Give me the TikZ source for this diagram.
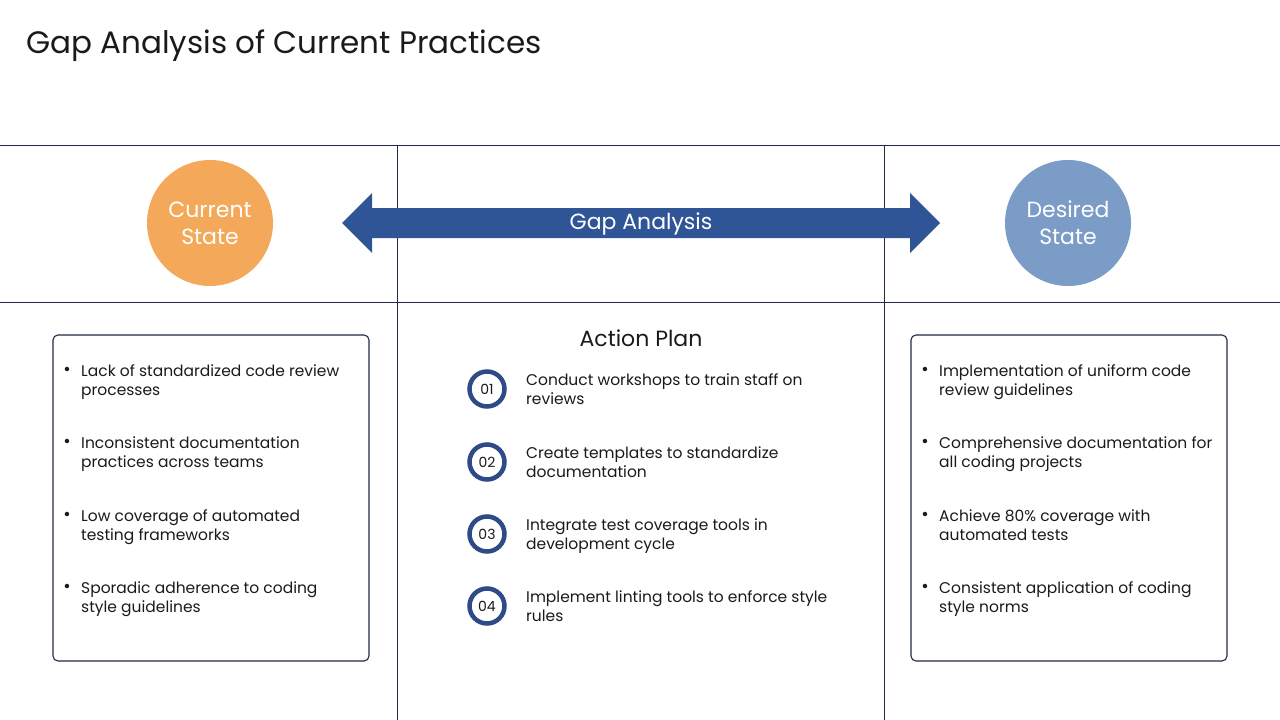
\documentclass[tikz,border=0pt]{standalone}
\usepackage{fontspec}
\setmainfont{Poppins}
\usepackage{tikz}
\usepackage{xcolor}
\usetikzlibrary{positioning,calc}
\definecolor{ink}{HTML}{1A1A1A}
\definecolor{rulenavy}{HTML}{1F2A44}
\definecolor{arrowblue}{HTML}{2F5597}
\definecolor{ringblue}{HTML}{2E4A87}
\definecolor{curorange}{HTML}{F4A95A}
\definecolor{desblue}{HTML}{7A9CC6}
\tikzset{
  statecircle/.style={circle,minimum size=126pt,inner sep=0pt,align=center,
                      text=white,font=\fontsize{22}{27}\selectfont},
  listbox/.style={draw=rulenavy,line width=1.1pt,rounded corners=5pt},
  itemtext/.style={anchor=north west,align=left,inner sep=0pt,text=ink,
                   font=\fontsize{15.5}{19}\selectfont},
  bulletdot/.style={inner sep=0pt,text=ink,font=\fontsize{18}{18}\selectfont},
  numring/.style={circle,draw=ringblue,line width=4.5pt,fill=white,
                  minimum size=35pt,inner sep=0pt,text=ink,
                  font=\fontsize{14}{14}\selectfont},
  gridline/.style={rulenavy,line width=0.9pt}
}
\begin{document}
\begin{tikzpicture}[x=1pt,y=-1pt]
  \useasboundingbox (0,0) rectangle (1280,720);
  % title
  \node[anchor=west,inner sep=0pt,text=ink,font=\fontsize{31}{36}\selectfont] (title) at (26,46) {Gap Analysis of Current Practices};

  % grid rules
  \draw[gridline] (0,145) -- (1280,145);
  \draw[gridline] (0,302) -- (1280,302);
  \draw[gridline] (397,145) -- (397,720);
  \draw[gridline] (884,145) -- (884,720);

  % state circles
  \node[statecircle,fill=curorange] (cur) at (210,223) {Current\\State};
  \node[statecircle,fill=desblue] (des) at (1068,223) {Desired\\State};

  % double arrow
  \fill[arrowblue] (342,223) -- (372,193) -- (372,208) -- (910,208) -- (910,193)
    -- (940,223) -- (910,253) -- (910,238) -- (372,238) -- (372,253) -- cycle;
  \node[text=white,font=\fontsize{22}{26}\selectfont] (gap) at (641,224) {Gap Analysis};

  % current state list
  \node[listbox,minimum width=316pt,minimum height=326pt] (lbox) at (211,498) {};
  \foreach \y/\txt [count=\i] in {364/{Lack of standardized code review\\processes},
      436/{Inconsistent documentation\\practices across teams},
      509/{Low coverage of automated\\testing frameworks},
      581/{Sporadic adherence to coding\\style guidelines}}{
    \node[bulletdot] (lb\i) at (67,\y+7) {•};
    \node[itemtext] (l\i) at (81,\y) {\txt};
  }

  % action plan
  \node[font=\fontsize{22}{26}\selectfont,text=ink] (plan) at (641,338) {Action Plan};
  \foreach \y/\txt [count=\i] in {389/{Conduct workshops to train staff on\\reviews},
      462/{Create templates to standardize\\documentation},
      534/{Integrate test coverage tools in\\development cycle},
      606/{Implement linting tools to enforce style\\rules}}{
    \node[numring] (n\i) at (487,\y) {0\i};
    \node[itemtext] (a\i) at (526,\y-16) {\txt};
  }

  % desired state list
  \node[listbox,minimum width=316pt,minimum height=326pt] (rbox) at (1069,498) {};
  \foreach \y/\txt [count=\i] in {364/{Implementation of uniform code\\review guidelines},
      436/{Comprehensive documentation for\\all coding projects},
      509/{Achieve 80\% coverage with\\automated tests},
      581/{Consistent application of coding\\style norms}}{
    \node[bulletdot] (rb\i) at (925,\y+7) {•};
    \node[itemtext] (r\i) at (939,\y) {\txt};
  }
\end{tikzpicture}
\end{document}
